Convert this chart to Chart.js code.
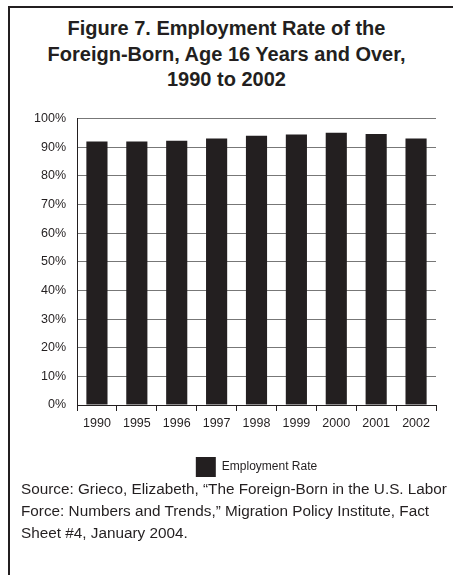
<!DOCTYPE html>
<html>
<head>
<meta charset="utf-8">
<script src="https://cdn.jsdelivr.net/npm/chart.js@4"></script>
<style>
    html, body {
        margin: 0;
        padding: 0;
        width: 453px;
        height: 575px;
        overflow: hidden;
        background: #fff;
        font-family: 'Liberation Sans', Arial, sans-serif;
        color: #231f20;
    }
    .frame {
        position: absolute;
        left: 8px;
        top: 6px;
        width: 460px;
        height: 600px;
        border-left: 2px solid #231f20;
        border-top: 2px solid #231f20;
    }
    .title {
        position: absolute;
        left: 0;
        top: 16px;
        width: 453px;
        text-align: center;
        font-weight: bold;
        font-size: 20px;
        line-height: 25.5px;
    }
    .chart-wrap {
        position: absolute;
        left: 0;
        top: 100px;
        width: 453px;
        height: 390px;
    }
    .source {
        position: absolute;
        left: 21px;
        top: 478px;
        font-size: 15.3px;
        line-height: 22px;
        white-space: nowrap;
    }
</style>
</head>
<body>
<div class="frame"></div>
<div class="title">Figure 7. Employment Rate of the<br>Foreign-Born, Age 16 Years and Over,<br>1990 to 2002</div>
<div class="chart-wrap"><canvas id="rateChart"></canvas></div>
<div class="source">Source: Grieco, Elizabeth, “The Foreign-Born in the U.S. Labor<br>Force: Numbers and Trends,” Migration Policy Institute, Fact<br>Sheet #4, January 2004.</div>

<script>
/* ============================================
   DATA
============================================ */
const years = ['1990', '1995', '1996', '1997', '1998', '1999', '2000', '2001', '2002'];
const employmentRate = [92.0, 92.0, 92.2, 93.0, 94.0, 94.4, 95.0, 94.6, 93.0];
const yTicks = [0, 10, 20, 30, 40, 50, 60, 70, 80, 90, 100];

const INK = '#231f20';
const GRID = '#777777';
const FONT = "'Liberation Sans', Arial, sans-serif";

/* ============================================
   BAR CHART
============================================ */
function initChart() {
    const canvas = document.getElementById('rateChart');
    if (!canvas) return;

    new Chart(canvas.getContext('2d'), {
        type: 'bar',
        data: {
            labels: years,
            datasets: [{
                label: 'Employment Rate',
                data: employmentRate,
                backgroundColor: INK,
                borderWidth: 0,
                categoryPercentage: 1,
                barPercentage: 0.53
            }]
        },
        options: {
            responsive: true,
            maintainAspectRatio: false,
            animation: false,
            layout: {
                padding: { top: 16, right: 17, bottom: 3, left: 0 }
            },
            plugins: {
                legend: {
                    position: 'bottom',
                    fullSize: false,
                    labels: {
                        boxWidth: 20,
                        boxHeight: 20,
                        padding: 10,
                        color: INK,
                        font: { family: FONT, size: 12 }
                    }
                },
                tooltip: { enabled: false }
            },
            scales: {
                x: {
                    afterFit: s => { s.height = 42; },
                    grid: {
                        offset: true,
                        drawOnChartArea: false,
                        drawTicks: true,
                        tickLength: 6,
                        color: INK
                    },
                    border: { color: INK, width: 1 },
                    ticks: {
                        padding: 5,
                        color: INK,
                        font: { family: FONT, size: 12.5 }
                    }
                },
                y: {
                    min: 0,
                    max: 100,
                    afterFit: s => { s.width = 77; },
                    afterBuildTicks: s => { s.ticks = yTicks.map(v => ({ value: v })); },
                    grid: {
                        drawTicks: false,
                        color: GRID,
                        lineWidth: 1
                    },
                    border: { color: INK, width: 1 },
                    ticks: {
                        padding: 11,
                        color: INK,
                        font: { family: FONT, size: 12.5 },
                        callback: v => v + '%'
                    }
                }
            }
        }
    });
}

document.addEventListener('DOMContentLoaded', initChart);
</script>
</body>
</html>
